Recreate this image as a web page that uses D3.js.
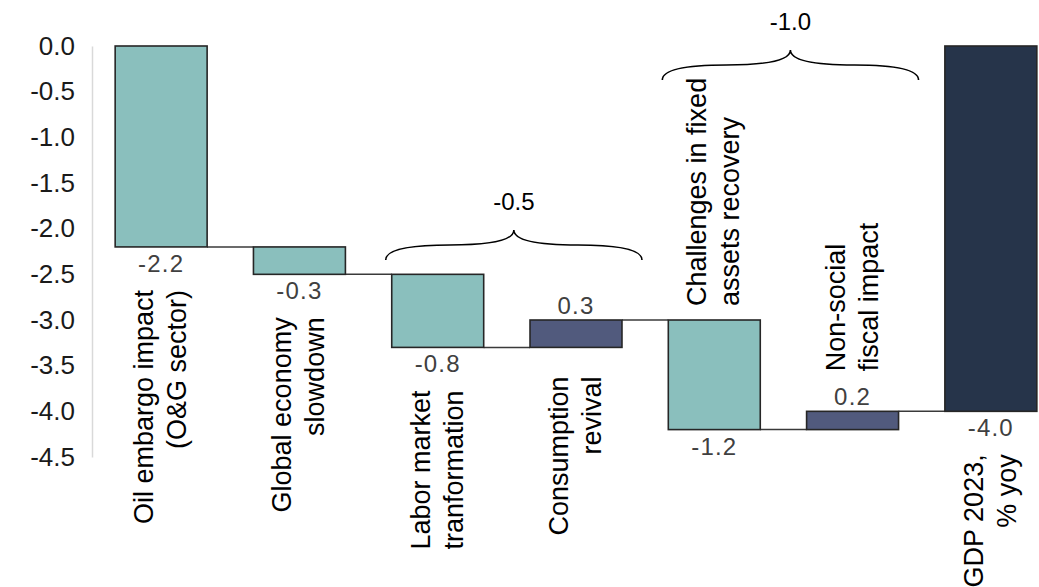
<!DOCTYPE html>
<html>
<head>
<meta charset="utf-8">
<script src="https://cdn.jsdelivr.net/npm/d3@7"></script>
<style>
  html, body { margin: 0; padding: 0; background: #ffffff; }
  svg { display: block; font-family: "Liberation Sans", Arial, sans-serif; }
</style>
</head>
<body>
<svg id="chart" width="1039" height="587"></svg>
<script>
// GDP 2023 bridge: contributions by factor, percentage points
const categories = [
  ["Oil embargo impact", "(O&G sector)"],
  ["Global economy", "slowdown"],
  ["Labor market", "tranformation"],
  ["Consumption", "revival"],
  ["Challenges in fixed", "assets recovery"],
  ["Non-social", "fiscal impact"],
  ["GDP 2023,", "% yoy"]
];
const values = [-2.2, -0.3, -0.8, 0.3, -1.2, 0.2, -4.0];
const barKinds = ["delta", "delta", "delta", "delta", "delta", "delta", "total"];
const labelSides = ["below", "below", "below", "below", "above", "above", "below"];
const yTicks = [0.0, -0.5, -1.0, -1.5, -2.0, -2.5, -3.0, -3.5, -4.0, -4.5];
// grouped subtotals shown with a curly brace over two factors
const braceFrom = [2, 4];
const braceTo = [3, 5];
const braceLabels = ["-0.5", "-1.0"];

const colors = { neg: "#8abfbd", pos: "#515a7d", total: "#26344a" };

const svg = d3.select("#chart");

const x = d3.scaleBand()
  .domain(d3.range(values.length))
  .range([92, 1060])
  .paddingInner(0.335)
  .paddingOuter(0.1675);

const y = d3.scaleLinear().domain([0, -4.5]).range([46, 457]);

// running totals for the waterfall
let run = 0;
const bars = values.map((v, i) => {
  let start, end;
  if (barKinds[i] === "total") { start = 0; end = v; run = v; }
  else { start = run; end = run + v; run = end; }
  const top = Math.max(start, end), bottom = Math.min(start, end);
  const cls = barKinds[i] === "total" ? "total" : (v < 0 ? "neg" : "pos");
  return { i, v, start, end, top, bottom, cls, lines: categories[i], side: labelSides[i] };
});

const fmt = v => d3.format(".1f")(v).replace("−", "-");

// y axis: plain light line with tick labels, no tick marks
const yAxis = d3.axisLeft(y).tickValues(yTicks).tickFormat(fmt).tickSize(0).tickPadding(17);
const gy = svg.append("g").attr("transform", "translate(92,0)").call(yAxis);
gy.select(".domain").attr("stroke", "#d9d9d9").attr("stroke-width", 1.5);
gy.selectAll(".tick text")
  .attr("font-size", 26)
  .attr("fill", "#1a1a1a")
  .attr("font-family", "Liberation Sans, Arial, sans-serif");

// connectors between consecutive bars
svg.append("g").selectAll("line")
  .data(bars.slice(0, -1))
  .join("line")
  .attr("x1", d => x(d.i) + x.bandwidth())
  .attr("x2", d => x(d.i + 1))
  .attr("y1", d => y(d.end))
  .attr("y2", d => y(d.end))
  .attr("stroke", "#3a3a3a")
  .attr("stroke-width", 1.5);

// bars
svg.append("g").selectAll("rect")
  .data(bars)
  .join("rect")
  .attr("x", d => x(d.i))
  .attr("width", x.bandwidth())
  .attr("y", d => y(d.top))
  .attr("height", d => y(d.bottom) - y(d.top))
  .attr("fill", d => colors[d.cls])
  .attr("stroke", "#262626")
  .attr("stroke-width", 1.6);

// value labels: below for negatives, above for positives
const valueBelow = d => d.v < 0;
svg.append("g").selectAll("text")
  .data(bars)
  .join("text")
  .attr("x", d => x(d.i) + x.bandwidth() / 2)
  .attr("y", d => valueBelow(d) ? y(d.bottom) + 25 : y(d.top) - 6)
  .attr("text-anchor", "middle")
  .attr("font-size", 24)
  .attr("letter-spacing", 1.2)
  .attr("fill", "#404040")
  .text(d => fmt(d.v));

// rotated two-line category labels
const catG = svg.append("g");
bars.forEach(d => {
  const cx = x(d.i) + x.bandwidth() / 2;
  let ay, anchor;
  if (d.side === "below") {
    ay = y(d.bottom) + (valueBelow(d) ? 43 : 29);
    anchor = "end";
  } else {
    ay = y(d.top) - (valueBelow(d) ? 14 : 40);
    anchor = "start";
  }
  const t = catG.append("text")
    .attr("transform", `translate(${cx},${ay}) rotate(-90)`)
    .attr("text-anchor", anchor)
    .attr("font-size", 27)
    .attr("fill", "#000");
  t.selectAll("tspan")
    .data(d.lines)
    .join("tspan")
    .attr("x", 0)
    .attr("y", (s, k) => k === 0 ? -8 : 25)
    .text(s => s);
});

// curly braces for grouped subtotals
const braceBase = [260, 80];
const braceHeight = 30;
function bracePath(x0, x1, yb) {
  const xm = (x0 + x1) / 2, ym = yb - 15, yt = yb - braceHeight;
  const ql = (x0 + xm) / 2, qr = (xm + x1) / 2;
  return `M${x0},${yb} Q${x0},${ym} ${ql},${ym} Q${xm},${ym} ${xm},${yt}` +
         ` Q${xm},${ym} ${qr},${ym} Q${x1},${ym} ${x1},${yb}`;
}
const braceG = svg.append("g");
braceFrom.forEach((f, k) => {
  const x0 = x(f) - 6;
  const x1 = x(braceTo[k]) + x.bandwidth() + 20;
  const yb = braceBase[k];
  braceG.append("path")
    .attr("d", bracePath(x0, x1, yb))
    .attr("fill", "none")
    .attr("stroke", "#000")
    .attr("stroke-width", 1.6);
  braceG.append("text")
    .attr("x", (x0 + x1) / 2)
    .attr("y", yb - braceHeight - 20)
    .attr("text-anchor", "middle")
    .attr("font-size", 24)
    .attr("fill", "#000")
    .text(braceLabels[k]);
});
</script>
</body>
</html>
